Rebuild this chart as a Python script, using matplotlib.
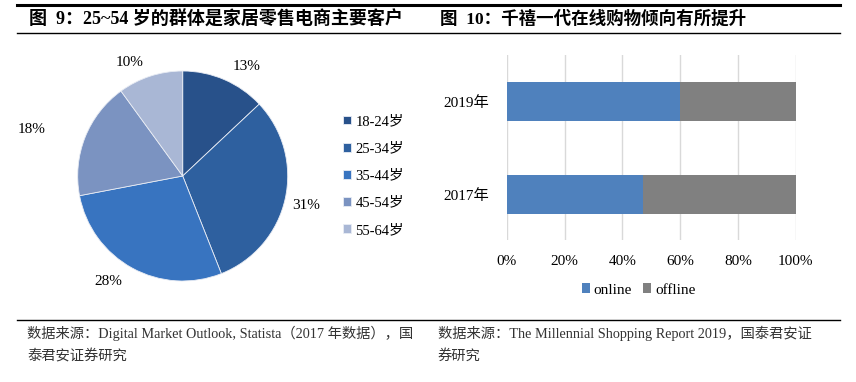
import numpy as np
import matplotlib.pyplot as plt
from matplotlib.lines import Line2D

plt.rcParams['font.family'] = ['Liberation Serif', 'Noto Sans CJK SC']

# pie data (fig 9)
age_groups = ['18-24岁', '25-34岁', '35-44岁', '45-54岁', '55-64岁']
age_share = [13, 31, 28, 18, 10]
pie_colors = ['#28518a', '#2e609f', '#3874c0', '#7b93c1', '#a9b7d5']

# bar data (fig 10)
years = ['2017年', '2019年']
online = [47, 60]
offline = [53, 40]
bar_colors = ['#4f81bd', '#808080']

W, H = 856, 382
fig = plt.figure(figsize=(W / 100, H / 100), dpi=100)

def fx(px):
    return px / W

def fy(py):
    return 1 - py / H

# rules
fig.add_artist(Line2D([fx(17), fx(840)], [fy(5), fy(5)], color='black', lw=2.2))
fig.add_artist(Line2D([fx(17), fx(840)], [fy(32.5), fy(32.5)], color='black', lw=1.0))
fig.add_artist(Line2D([fx(17), fx(840)], [fy(319.5), fy(319.5)], color='black', lw=1.0))

# titles
fig.text(fx(29), fy(19.5), '图  9：25~54 岁的群体是家居零售电商主要客户', fontsize=13,
         fontweight='bold', va='center', ha='left')
fig.text(fx(440), fy(19.5), '图  10：千禧一代在线购物倾向有所提升', fontsize=12.6,
         fontweight='bold', va='center', ha='left')

# sources
src_kw = dict(fontsize=10.3, color='#333333', va='center', ha='left')
fig.text(fx(27), fy(333), '数据来源：Digital Market Outlook, Statista（2017 年数据），国', **src_kw)
fig.text(fx(27), fy(356), '泰君安证券研究', **src_kw)
fig.text(fx(438), fy(333), '数据来源：The Millennial Shopping Report 2019，国泰君安证', **src_kw)
fig.text(fx(438), fy(356), '券研究', **src_kw)

# ---- pie ----
cx, cy, r = 182.7, 176, 105
ax1 = fig.add_axes([fx(cx - r), fy(cy + r), 2 * r / W, 2 * r / H])
wedges, texts, autotexts = ax1.pie(age_share, colors=pie_colors, startangle=90, counterclock=False,
                                   autopct='%d%%', pctdistance=1.22,
                                   wedgeprops=dict(edgecolor='#e8ecf4', linewidth=0.6),
                                   textprops=dict(fontsize=11, color='black'))
# label placement (radius, angle) as Excel put them
lab_r = [1.21, 1.21, 1.23, 1.5, 1.19]
lab_ang = [59.8, -13.5, -125, 163, 115]
for t, lr, la in zip(autotexts, lab_r, lab_ang):
    a = np.deg2rad(la)
    t.set_position((lr * np.cos(a), lr * np.sin(a)))
ax1.set_xlim(-1, 1)
ax1.set_ylim(-1, 1)
ax1.set_aspect('equal')
ax1.axis('off')

fig.legend(wedges, age_groups, loc='center left', bbox_to_anchor=(fx(330), fy(176)),
           frameon=False, fontsize=10.5, handlelength=0.55, handleheight=0.55,
           handletextpad=0.3, labelspacing=0.97)

# ---- stacked bar ----
ax2 = fig.add_axes([fx(506.7), fy(240), 289 / W, 185 / H])
ypos = np.arange(len(years))
ax2.barh(ypos, online, height=0.41, color=bar_colors[0], label='online', zorder=2)
ax2.barh(ypos, offline, left=online, height=0.41, color=bar_colors[1], label='offline', zorder=2)
ax2.set_xlim(0, 100)
ax2.set_ylim(-0.49, 1.5)
ax2.set_xticks(range(0, 101, 20))
ax2.set_xticklabels([f'{v}%' for v in range(0, 101, 20)], fontsize=11)
ax2.set_yticks(ypos)
ax2.set_yticklabels(years, fontsize=11)
ax2.tick_params(length=0)
ax2.tick_params(axis='x', pad=11)
ax2.tick_params(axis='y', pad=13)
ax2.grid(axis='x', color='#d9d9d9', lw=1, zorder=0)
for s in ax2.spines.values():
    s.set_visible(False)
ax2.legend(loc='center', bbox_to_anchor=(0.456, (240 - 290) / 185), ncol=2,
           frameon=False, fontsize=11, handlelength=0.55, handleheight=0.55,
           handletextpad=0.25, columnspacing=0.7)

fig.savefig('out.png', dpi=100)
